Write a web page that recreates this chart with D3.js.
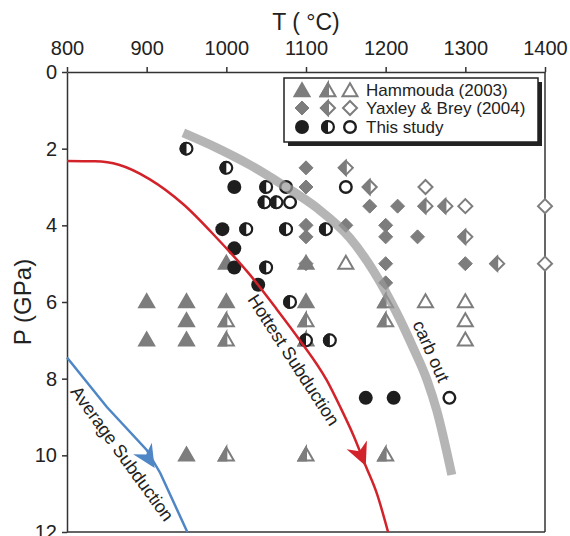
<!DOCTYPE html>
<html><head><meta charset="utf-8">
<script src="https://cdn.jsdelivr.net/npm/d3@7"></script>
<style>
body{margin:0;background:#fff;}
text{font-family:"Liberation Sans",Arial,sans-serif;fill:#222;}
</style></head>
<body><svg id="c" width="570" height="536"></svg>
<script>
// ---- data ----
const tempTicks = [800,900,1000,1100,1200,1300,1400];
const presTicks = [0,2,4,6,8,10,12];
// Hammouda (2003) triangles [T, P]
const hamFilled = [[900,6],[950,6],[1000,6],[1100,6],[900,7],[950,7],[950,6.5],[950,10],[1000,5],[1100,5]];
const hamHalf   = [[1000,6.5],[1100,6.5],[1000,7],[1100,7],[1000,10],[1100,10],[1200,6],[1200,6.5],[1200,10]];
const hamOpen   = [[1150,5],[1250,6],[1300,6],[1300,6.5],[1300,7]];
// Yaxley & Brey (2004) diamonds
const yaxFilled = [[1100,2.5],[1100,3.0],[1100,4.0],[1100,4.3],[1100,5.0],[1150,4.0],[1180,3.5],[1215,3.5],[1200,4.0],[1200,4.3],[1240,4.3],[1200,5.0],[1300,5.0],[1200,5.5]];
const yaxHalf   = [[1150,2.5],[1180,3.0],[1250,3.5],[1275,3.5],[1300,4.3],[1340,5.0]];
const yaxOpen   = [[1250,3.0],[1300,3.5],[1400,3.5],[1400,5.0]];
// This study circles
const stFilled = [[1010,3.0],[995,4.1],[1010,4.6],[1010,5.1],[1040,5.55],[1175,8.5],[1210,8.5]];
const stHalf   = [[950,2.0],[1000,2.5],[1050,3.0],[1048,3.4],[1063,3.4],[1025,4.1],[1075,4.1],[1125,4.1],[1050,5.1],[1080,6.0],[1100,7.0],[1130,7.0]];
const stOpen   = [[1075,3.0],[1080,3.4],[1150,3.0],[1280,8.5]];
// curves [T, P]
const hottest = [[800,2.32],[835,2.33],[865,2.42],[904,2.80],[946,3.45],[988,4.33],[1030,5.30],[1060,6.1],[1092,6.99],[1126,8.04],[1143,8.74],[1160,9.5],[1175,10.28],[1189,11.0],[1203,12.0]];
const average = [[800,7.45],[850,8.74],[900,9.86],[917,10.46],[951,12.0]];
const carbOut = [[946,1.59],[988,1.98],[1030,2.43],[1071,2.95],[1114,3.55],[1155,4.33],[1185,5.2],[1214,6.29],[1234,7.17],[1252,8.04],[1264,8.82],[1283,10.51]];
const hottestArrow = [1175,10.28];
const averageArrow = [910,10.33];
const legendLabels = ["Hammouda (2003)","Yaxley & Brey (2004)","This study"];

// ---- layout ----
const svg = d3.select("#c");
const x = d3.scaleLinear().domain([800,1400]).range([67,545]);
const y = d3.scaleLinear().domain([0,12]).range([72,532]);
const GREY = "#7d7d7d", DARK = "#1e1e1e";

const axisCol = "#333";
const gx = svg.append("g").attr("transform","translate(0,"+y(0)+")")
  .call(d3.axisTop(x).tickValues(tempTicks).tickFormat(d3.format("d")).tickSize(5).tickSizeOuter(0).tickPadding(12));
const gy = svg.append("g").attr("transform","translate("+x(800)+",0)")
  .call(d3.axisLeft(y).tickValues(presTicks).tickFormat(d3.format("d")).tickSize(5).tickSizeOuter(0).tickPadding(5));
[gx,gy].forEach(g=>{
  g.selectAll("path,line").attr("stroke",axisCol).attr("stroke-width",1.5);
  g.selectAll("text").style("font-family","Liberation Sans, Arial, sans-serif").style("font-size","20px").attr("fill","#222");
});
svg.append("line").attr("x1",x(1400)).attr("x2",x(1400)).attr("y1",y(0)).attr("y2",y(12)).attr("stroke",axisCol).attr("stroke-width",1.5);
svg.append("line").attr("x1",x(800)).attr("x2",x(1400)).attr("y1",y(12)).attr("y2",y(12)).attr("stroke",axisCol).attr("stroke-width",1.5);

svg.append("text").attr("x",x(1100)).attr("y",30).attr("text-anchor","middle").style("font-size","23px").text("T ( °C)");
svg.append("text").attr("transform","translate(31,"+y(6)+") rotate(-90)").attr("text-anchor","middle").style("font-size","24px").text("P (GPa)");

// ---- symbols ----
function tri(g, cx, cy, kind){
  const w=7.5, h=13;
  const top=cy-h*0.6, bot=cy+h*0.4;
  if(kind==="half"){
    g.append("path").attr("d",`M${cx},${top}L${cx+w},${bot}L${cx-w},${bot}Z`).attr("fill","#fff").attr("stroke",GREY).attr("stroke-width",2).attr("stroke-linejoin","miter");
    g.append("path").attr("d",`M${cx},${top}L${cx},${bot}L${cx-w},${bot}Z`).attr("fill",GREY).attr("stroke",GREY).attr("stroke-width",2);
  } else {
    g.append("path").attr("d",`M${cx},${top}L${cx+w},${bot}L${cx-w},${bot}Z`)
     .attr("fill",kind==="filled"?GREY:"#fff").attr("stroke",GREY).attr("stroke-width",2);
  }
}
function dia(g, cx, cy, kind){
  const r=7;
  const d=`M${cx},${cy-r}L${cx+r},${cy}L${cx},${cy+r}L${cx-r},${cy}Z`;
  if(kind==="half"){
    g.append("path").attr("d",d).attr("fill","#fff").attr("stroke",GREY).attr("stroke-width",2);
    g.append("path").attr("d",`M${cx},${cy-r}L${cx},${cy+r}L${cx-r},${cy}Z`).attr("fill",GREY).attr("stroke",GREY).attr("stroke-width",2);
  } else {
    g.append("path").attr("d",d).attr("fill",kind==="filled"?GREY:"#fff").attr("stroke",GREY).attr("stroke-width",kind==="filled"?1:2);
  }
}
function circ(g, cx, cy, kind){
  const r=7;
  if(kind==="filled"){
    g.append("circle").attr("cx",cx).attr("cy",cy).attr("r",r).attr("fill",DARK);
  } else if(kind==="half"){
    g.append("circle").attr("cx",cx).attr("cy",cy).attr("r",r-1.1).attr("fill","#fff").attr("stroke",DARK).attr("stroke-width",2.2);
    g.append("path").attr("d",`M${cx},${cy-r}A${r},${r} 0 0 0 ${cx},${cy+r}Z`).attr("fill",DARK);
  } else {
    g.append("circle").attr("cx",cx).attr("cy",cy).attr("r",r-1.2).attr("fill","#fff").attr("stroke",DARK).attr("stroke-width",2.4);
  }
}

const gm = svg.append("g");
[[hamFilled,"filled"],[hamHalf,"half"],[hamOpen,"open"]].forEach(([arr,k])=>arr.forEach(d=>tri(gm,x(d[0]),y(d[1]),k)));
[[yaxFilled,"filled"],[yaxHalf,"half"],[yaxOpen,"open"]].forEach(([arr,k])=>arr.forEach(d=>dia(gm,x(d[0]),y(d[1]),k)));
[[stFilled,"filled"],[stHalf,"half"],[stOpen,"open"]].forEach(([arr,k])=>arr.forEach(d=>circ(gm,x(d[0]),y(d[1]),k)));

// ---- curves ----
const line = d3.line().x(d=>x(d[0])).y(d=>y(d[1])).curve(d3.curveMonotoneX);
svg.append("path").attr("d",line(carbOut)).attr("fill","none").attr("stroke","#999").attr("stroke-opacity",0.72).attr("stroke-width",9);
svg.append("path").attr("d",line(hottest)).attr("fill","none").attr("stroke","#d2232a").attr("stroke-width",2.5);
svg.append("path").attr("d",d3.line().x(d=>x(d[0])).y(d=>y(d[1]))(average)).attr("fill","none").attr("stroke","#4f86c6").attr("stroke-width",2.5);

function arrow(pt, ang, col){
  svg.append("path").attr("d","M0,0L-23,-11L-16,0L-23,11Z")
   .attr("transform",`translate(${x(pt[0])},${y(pt[1])}) rotate(${ang})`).attr("fill",col);
}
arrow(hottestArrow, 67, "#d2232a");
arrow(averageArrow, 58, "#4f86c6");

// ---- curve labels ----
function clabel(tx, ty, ang, s){
  svg.append("text").attr("transform",`translate(${tx},${ty}) rotate(${ang})`).attr("text-anchor","middle")
   .style("font-size","18px").text(s);
}
clabel(x(1078), y(7.6), 57, "Hottest Subduction");
clabel(x(863), y(10.05), 54, "Average Subduction");
clabel(x(1250), y(7.35), 66, "carb out");

// ---- legend ----
const lg = svg.append("g");
lg.append("rect").attr("x",288).attr("y",82).attr("width",254).attr("height",64).attr("fill","#222");
lg.append("rect").attr("x",284).attr("y",78).attr("width",254).attr("height",64).attr("fill","#fff").attr("stroke","#222").attr("stroke-width",1.5);
const rows=[90,108,127], cols=[302,328,350];
["filled","half","open"].forEach((k,i)=>{
  tri(lg,cols[i],rows[0]+1,k); dia(lg,cols[i],rows[1],k); circ(lg,cols[i],rows[2],k);
});
legendLabels.forEach((s,i)=>lg.append("text").attr("x",366).attr("y",rows[i]).attr("dy","0.35em").style("font-size","17px").text(s));
</script></body></html>
